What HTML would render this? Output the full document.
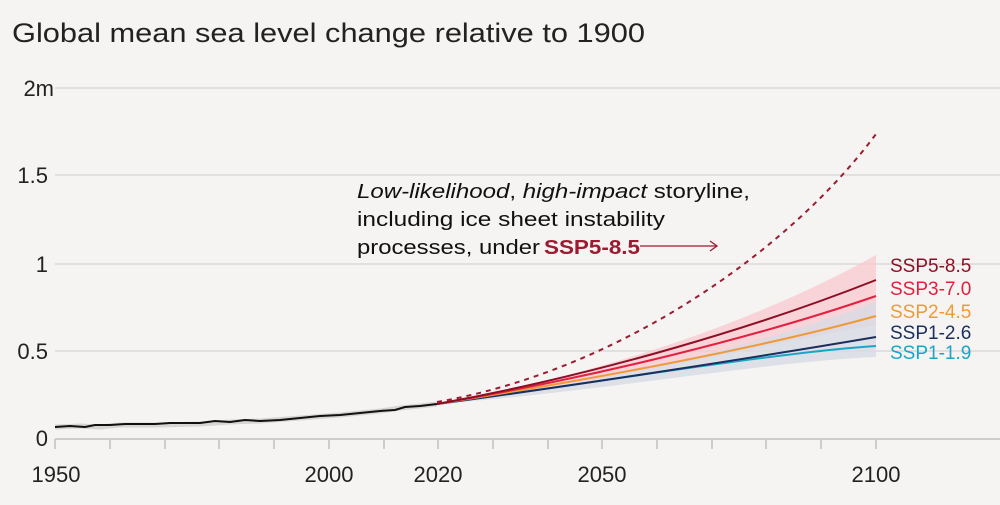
<!DOCTYPE html>
<html><head><meta charset="utf-8"><style>
body{margin:0;background:#f6f4f2;}
svg{display:block;font-family:"Liberation Sans",sans-serif;}
</style></head><body>
<svg width="1000" height="505" viewBox="0 0 1000 505">
<rect width="1000" height="505" fill="#f6f4f2"/>
<text x="12" y="42" font-size="27" fill="#222" textLength="633" lengthAdjust="spacingAndGlyphs">Global mean sea level change relative to 1900</text>
<g stroke="#dcdad8" stroke-width="1.5">
<line x1="55" y1="88" x2="1000" y2="88"/>
<line x1="55" y1="175" x2="1000" y2="175"/>
<line x1="55" y1="264" x2="1000" y2="264"/>
<line x1="55" y1="351" x2="1000" y2="351"/>
</g>
<g stroke="#cfcdcb" stroke-width="2">
<line x1="55" y1="439" x2="1000" y2="439"/>
<line x1="55" y1="439" x2="55" y2="449"/><line x1="110" y1="439" x2="110" y2="449"/><line x1="165" y1="439" x2="165" y2="449"/><line x1="219" y1="439" x2="219" y2="449"/><line x1="274" y1="439" x2="274" y2="449"/><line x1="329" y1="439" x2="329" y2="449"/><line x1="384" y1="439" x2="384" y2="449"/><line x1="438" y1="439" x2="438" y2="449"/><line x1="493" y1="439" x2="493" y2="449"/><line x1="548" y1="439" x2="548" y2="449"/><line x1="602" y1="439" x2="602" y2="449"/><line x1="657" y1="439" x2="657" y2="449"/><line x1="712" y1="439" x2="712" y2="449"/><line x1="766" y1="439" x2="766" y2="449"/><line x1="821" y1="439" x2="821" y2="449"/><line x1="876" y1="439" x2="876" y2="449"/>
</g>
<g font-size="22" fill="#222" text-anchor="end">
<text x="54" y="96">2m</text><text x="48" y="183">1.5</text><text x="48" y="272">1</text><text x="48" y="359">0.5</text><text x="48" y="446">0</text>
</g>
<g font-size="22" fill="#222" text-anchor="middle">
<text x="56" y="482">1950</text><text x="329" y="482">2000</text><text x="438" y="482">2020</text><text x="602" y="482">2050</text><text x="876" y="482">2100</text>
</g>
<!-- bands -->
<path d="M437,404 C600,375 760,320 876,255 L876,325 C760,345 600,385 437,404Z" fill="#f8c8cf" opacity="0.75"/>
<path d="M437,404 C600,385 760,345 876,302 L876,357 C760,362 600,392 437,404Z" fill="#d8dbe3" opacity="0.8"/>
<!-- historical -->
<path d="M55,427 L80,426 L100,427 L120,425 L160,425 L200,424 L230,422 L260,421 L300,418 L340,415 L380,411 L400,408 L420,406 L437,404" fill="none" stroke="#d8d6d4" stroke-width="5"/>
<path d="M55,427 L70,426 L85,427 L95,425 L110,425 L125,424 L140,424 L155,424 L170,423 L190,423 L200,423 L215,421 L230,422 L245,420 L260,421 L280,420 L300,418 L320,416 L340,415 L360,413 L380,411 L395,410 L405,407 L420,406 L437,404" fill="none" stroke="#111" stroke-width="2"/>
<!-- scenarios -->
<path d="M437,404 C600,382 780,352 876,346" fill="none" stroke="#1aa5c8" stroke-width="2"/>
<path d="M437,404 C600,382 770,355 876,337" fill="none" stroke="#1b2f5e" stroke-width="2"/>
<path d="M437,404 C600,378 760,348 876,316" fill="none" stroke="#ef9a3a" stroke-width="2"/>
<path d="M437,404 C600,376 760,336 876,296" fill="none" stroke="#e3203f" stroke-width="2"/>
<path d="M437,404 C600,374 760,326 876,280" fill="none" stroke="#8d0f25" stroke-width="2"/>
<path d="M437,402 C620,370 790,250 876,134" fill="none" stroke="#9b1b30" stroke-width="2" stroke-dasharray="5,5"/>
<g font-size="19">
<text x="890" y="272" fill="#8d0f25">SSP5-8.5</text>
<text x="890" y="295" fill="#e3203f">SSP3-7.0</text>
<text x="890" y="318" fill="#ef9a3a">SSP2-4.5</text>
<text x="890" y="339" fill="#1b2f5e">SSP1-2.6</text>
<text x="890" y="359" fill="#1aa5c8">SSP1-1.9</text>
</g>
<g font-size="20" fill="#111">
<text x="357" y="198" textLength="393" lengthAdjust="spacingAndGlyphs"><tspan font-style="italic">Low-likelihood</tspan>, <tspan font-style="italic">high-impact</tspan> storyline,</text>
<text x="357" y="226" textLength="308" lengthAdjust="spacingAndGlyphs">including ice sheet instability</text>
<text x="357" y="254" textLength="183" lengthAdjust="spacingAndGlyphs">processes, under</text>
<text x="544" y="254" fill="#9b1b30" font-weight="bold" textLength="96" lengthAdjust="spacingAndGlyphs">SSP5-8.5</text>
</g>
<line x1="640" y1="246" x2="717" y2="246" stroke="#9b1b30" stroke-width="1.3"/>
<path d="M710,241 L717,246 L710,251" fill="none" stroke="#9b1b30" stroke-width="1.3"/>
</svg>
</body></html>
